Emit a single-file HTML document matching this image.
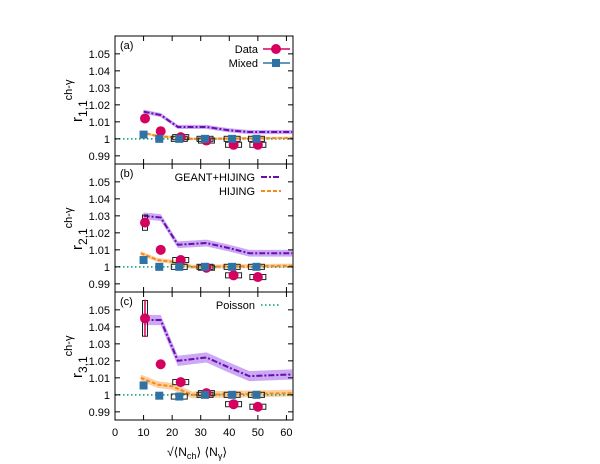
<!DOCTYPE html>
<html><head><meta charset="utf-8"><style>
body{margin:0;background:#fff}
svg{display:block;font-family:"Liberation Sans",sans-serif}
</style></head><body>
<svg id="c" width="600" height="464" viewBox="0 0 600 464"></svg>
<script>
const xs = [10.5, 16, 23, 32, 41.5, 50];
const mixX = [10, 15.5, 22.5, 31.5, 41, 49.5];
const dataA = [1.012, 1.0045, 1.001, 0.999, 0.9965, 0.9965];
const dataB = [1.026, 1.010, 1.004, 0.9995, 0.995, 0.994];
const dataC = [1.045, 1.018, 1.0075, 1.001, 0.9945, 0.993];
const errC = [0.011, 0.002, 0.001, 0.001, 0.001, 0.001];
const mixA = [1.0025, 1.0, 1.0, 1.0, 1.0, 1.0];
const mixB = [1.004, 1.0, 1.0, 1.0, 1.0, 1.0];
const mixC = [1.0055, 0.9995, 0.999, 1.0, 1.0, 1.0];
const geantX = [10, 16, 22, 32, 40, 47, 62];
const geantA = [1.016, 1.014, 1.007, 1.007, 1.005, 1.004, 1.004];
const geantB = [1.030, 1.029, 1.013, 1.014, 1.011, 1.008, 1.008];
const geantC = [1.044, 1.044, 1.020, 1.022, 1.016, 1.011, 1.012];
const geantBand = [0.0012, 0.002, 0.003];
const hijX = [9, 15, 20, 27, 62];
const hijA = [1.004, 1.0015, 1.001, 1.0, 1.0005];
const hijB = [1.008, 1.004, 1.003, 1.0, 1.0007];
const hijC = [1.010, 1.006, 1.005, 1.0, 1.001];
const hijBand = [0.0008, 0.0012, 0.002];
const boxA = [0, 0, 0.0015, 0.0015, 0.0015, 0.0015];
const boxB = [0.0045, 0, 0.0015, 0.0015, 0.0015, 0.0015];
const boxC = [0.0105, 0, 0.0015, 0.0015, 0.0015, 0.0015];
const yTicks = [0.99, 1, 1.01, 1.02, 1.03, 1.04, 1.05];
const xTicks = [0, 10, 20, 30, 40, 50, 60];
const panelLabels = ["(a)", "(b)", "(c)"];
const subs = ["1,1", "2,1", "3,1"];

const svg = document.getElementById('c');
const NS = 'http://www.w3.org/2000/svg';
function el(tag, attrs, parent) {
  const e = document.createElementNS(NS, tag);
  for (const k in attrs) e.setAttribute(k, attrs[k]);
  (parent || svg).appendChild(e);
  return e;
}
const L = 115, R = 293, XMAX = 62.3;
const sx = v => L + (v / XMAX) * (R - L);
const tops = [36, 164, 292], H = 128;
const Y0 = 0.9852, Y1 = 1.0605;
function mkY(i) { return v => tops[i] + H - (v - Y0) / (Y1 - Y0) * H; }

const panels = [
  {data: dataA, mix: mixA, geant: geantA, hij: hijA, box: boxA, err: null},
  {data: dataB, mix: mixB, geant: geantB, hij: hijB, box: boxB, err: null},
  {data: dataC, mix: mixC, geant: geantC, hij: hijC, box: boxC, err: errC}
];
panels.forEach((p, i) => {
  const sy = mkY(i);
  const g = el('g', {});
  
  
  let up = geantX.map((x, j) => sx(x) + ',' + sy(p.geant[j] + geantBand[i]));
  let dn = geantX.map((x, j) => sx(x) + ',' + sy(p.geant[j] - geantBand[i])).reverse();
  const gb = el('polygon', {points: up.concat(dn).join(' '), fill: '#b98cf2', opacity: 0.75}, g);
  
  
  up = hijX.map((x, j) => sx(x) + ',' + sy(p.hij[j] + hijBand[i]));
  dn = hijX.map((x, j) => sx(x) + ',' + sy(p.hij[j] - hijBand[i])).reverse();
  const hb = el('polygon', {points: up.concat(dn).join(' '), fill: '#fbc48a', opacity: 0.8}, g);
  
  
  const pl = el('line', {x1: L, x2: R, y1: sy(1), y2: sy(1), stroke: '#009e73', 'stroke-width': 1.5, 'stroke-dasharray': '1.5,2.5'}, g);
  
  
  const hl = el('polyline', {points: hijX.map((x, j) => sx(x) + ',' + sy(p.hij[j])).join(' '), fill: 'none', stroke: '#f58a1f', 'stroke-width': 2, 'stroke-dasharray': '4,2'}, g);
  
  
  const gl = el('polyline', {points: geantX.map((x, j) => sx(x) + ',' + sy(p.geant[j])).join(' '), fill: 'none', stroke: '#6a0dad', 'stroke-width': 2, 'stroke-dasharray': '6,2,2,2'}, g);
  
  
  xs.forEach((x, j) => {
    const v = p.data[j];
    if (p.box[j] > 0) {
      const w = j === 0 ? 5 : 16;
      const b = el('rect', {x: sx(x) - w / 2, y: sy(v + p.box[j]), width: w, height: sy(v - p.box[j]) - sy(v + p.box[j]), fill: 'none', stroke: '#222', 'stroke-width': 1}, g);
      
      
    }
    if (j >= 2) {
      const bm = el('rect', {x: sx(mixX[j]) - 8, y: sy(p.mix[j] + 0.0015), width: 16, height: sy(p.mix[j] - 0.0015) - sy(p.mix[j] + 0.0015), fill: 'none', stroke: '#222', 'stroke-width': 1}, g);
      
      
    }
    if (p.err) {
      const e = el('line', {x1: sx(x), x2: sx(x), y1: sy(v + p.err[j]), y2: sy(v - p.err[j]), stroke: '#d6005e', 'stroke-width': 1.5}, g);
      
      
    }
    const c = el('circle', {cx: sx(x), cy: sy(v), r: 5, fill: '#d6005e'}, g);
    
    
  });
  mixX.forEach((x, j) => {
    const v = p.mix[j];
    const s = el('rect', {x: sx(x) - 4, y: sy(v) - 4, width: 8, height: 8, fill: '#2f73a6'}, g);
    
    
  });
  const f = el('rect', {x: L, y: tops[i], width: R - L, height: H, fill: 'none', stroke: '#000', 'stroke-width': 1}, g);
  
  
  yTicks.forEach(t => {
    const y = sy(t);
    el('line', {x1: L, x2: L + 5, y1: y, y2: y, stroke: '#000'}, g);
    el('line', {x1: R - 5, x2: R, y1: y, y2: y, stroke: '#000'}, g);
    const tx = el('text', {x: L - 5, y: y + 4, 'text-anchor': 'end', 'font-size': 11}, g);
    tx.textContent = t === 1 ? '1' : t.toFixed(2);
    
    
  });
  xTicks.forEach(t => {
    const x = sx(t);
    el('line', {x1: x, x2: x, y1: tops[i], y2: tops[i] + 5, stroke: '#000'}, g);
    el('line', {x1: x, x2: x, y1: tops[i] + H - 5, y2: tops[i] + H, stroke: '#000'}, g);
  });
  const pt = el('text', {x: L + 5, y: tops[i] + 13, 'font-size': 11}, g);
  pt.textContent = panelLabels[i];
  
  
  const yt = el('text', {transform: `translate(82,${tops[i] + H / 2 + 22}) rotate(-90)`, 'font-size': 15}, g);
  yt.innerHTML = 'r<tspan font-size="12" dy="5">' + subs[i] + '</tspan><tspan font-size="11" dy="-15">ch-γ</tspan>';
  
  
});
xTicks.forEach(t => {
  const tx = el('text', {x: sx(t), y: 436, 'text-anchor': 'middle', 'font-size': 11});
  tx.textContent = t;
  
  
});
const xt = el('text', {x: 197, y: 456, 'text-anchor': 'middle', 'font-size': 12});
xt.innerHTML = '√⟨N<tspan font-size="9" dy="3">ch</tspan><tspan dy="-3">⟩ ⟨N</tspan><tspan font-size="9" dy="3">γ</tspan><tspan dy="-3">⟩</tspan>';


function legend(text, y, kind) {
  const g = el('g', {});
  
  
  const t = el('text', {x: kind === 'data' || kind === 'mixed' ? 258 : 255, y: y + 4, 'text-anchor': 'end', 'font-size': 11}, g);
  t.textContent = text;
  if (kind === 'data') { el('line', {x1: 263, x2: 290, y1: y, y2: y, stroke: '#d6005e', 'stroke-width': 1.5}, g); el('circle', {cx: 276, cy: y, r: 5, fill: '#d6005e'}, g); }
  if (kind === 'mixed') { el('line', {x1: 263, x2: 290, y1: y, y2: y, stroke: '#2f73a6', 'stroke-width': 1.5}, g); el('rect', {x: 272, y: y - 4, width: 8, height: 8, fill: '#2f73a6'}, g); }
  if (kind === 'geant') el('line', {x1: 261, x2: 281, y1: y, y2: y, stroke: '#6a0dad', 'stroke-width': 2, 'stroke-dasharray': '6,2,2,2'}, g);
  if (kind === 'hij') el('line', {x1: 261, x2: 281, y1: y, y2: y, stroke: '#f58a1f', 'stroke-width': 2, 'stroke-dasharray': '4,2'}, g);
  if (kind === 'poi') el('line', {x1: 261, x2: 281, y1: y, y2: y, stroke: '#009e73', 'stroke-width': 1.5, 'stroke-dasharray': '1.5,2.5'}, g);
}
legend('Data', 49, 'data');
legend('Mixed', 63, 'mixed');
legend('GEANT+HIJING', 177, 'geant');
legend('HIJING', 191, 'hij');
legend('Poisson', 305, 'poi');
</script>
</body></html>
